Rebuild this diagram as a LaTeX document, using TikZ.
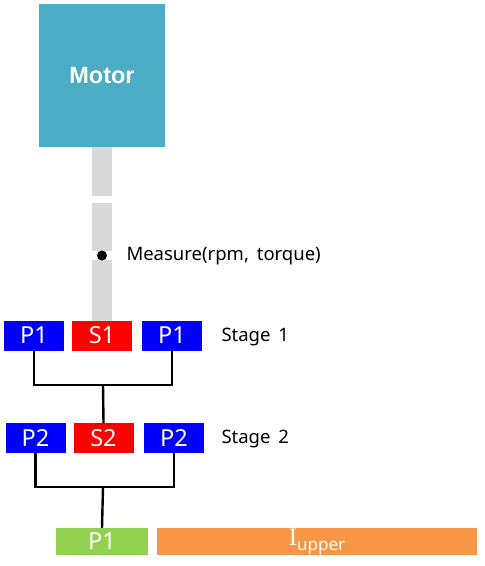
\documentclass[tikz,border=0pt]{standalone}
\usepackage{fontspec}
\setmainfont{Noto Sans}
\newfontfamily\serifI{Liberation Serif}
\newfontfamily\boldsans{Liberation Sans}
\definecolor{motorc}{HTML}{4BACC6}
\definecolor{shaftc}{HTML}{D9D9D9}
\definecolor{bluec}{HTML}{0000FF}
\definecolor{redc}{HTML}{FF0000}
\definecolor{greenc}{HTML}{92D050}
\definecolor{orangec}{HTML}{F79646}
\begin{document}
\begin{tikzpicture}[x=1pt,y=-1pt,
  gear/.style={rectangle, inner sep=0pt, minimum width=60pt, minimum height=30pt, text=white, font=\fontsize{23.5}{25}\selectfont},
  pbox/.style={gear, fill=bluec},
  sbox/.style={gear, fill=redc},
  shaft/.style={rectangle, fill=shaftc, inner sep=0pt, minimum width=20pt},
  lbl/.style={anchor=west, font=\fontsize{18.5}{20}\selectfont},
  wire/.style={line width=2.4pt, black}]
\useasboundingbox (0,0) rectangle (485,566);
% motor
\node[rectangle, fill=motorc, inner sep=0pt, minimum width=126pt, minimum height=143pt, text=white, font=\boldsans\bfseries\fontsize{23.5}{25}\selectfont] (motor) at (102,75.5) {Motor};
% shaft
\node[shaft, minimum height=49pt] (shA) at (102,171.5) {};
\node[shaft, minimum height=48pt] (shB) at (102,227) {};
\node[shaft, minimum height=61pt] (shC) at (102,290.5) {};
\fill[black] (102,255.5) circle (5pt);
\node[lbl] (meas) at (123,256) {Measure(rpm,\, torque)};
% stage 1
\node[pbox] (p1l) at (34,335.5) {P1};
\node[sbox] (s1) at (102,335.5) {S1};
\node[pbox] (p1r) at (172,335.5) {P1};
\node[lbl] (st1) at (218,337) {Stage\, 1};
% stage 2
\node[pbox] (p2l) at (35.5,438) {P2};
\node[sbox] (s2) at (103.5,438) {S2};
\node[pbox] (p2r) at (174,438) {P2};
\node[lbl] (st2) at (218,439) {Stage\, 2};
% bottom
\node[gear, fill=greenc, minimum width=92pt, minimum height=27pt] (g) at (102,541.5) {P1};
\node[gear, fill=orangec, minimum width=320pt, minimum height=27pt] (ib) at (317,541.5) {{\serifI\fontsize{25}{26}\selectfont I}\raisebox{-0.4ex}{\fontsize{17}{18}\selectfont upper}};
% wires
\coordinate (j1) at (103,385);
\coordinate (j2) at (103,487);
\draw[wire] (p1l.south) |- (j1) -| (p1r.south);
\draw[wire] (j1) -- (s2.north);
\draw[wire] (p2l.south) |- (j2) -| (p2r.south);
\draw[wire] (j2) -- (g.north);
\end{tikzpicture}
\end{document}
